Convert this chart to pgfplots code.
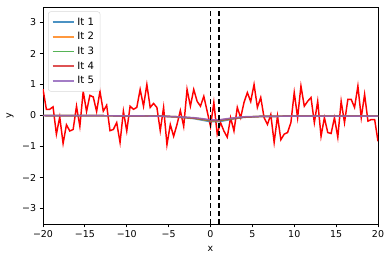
\documentclass[border=0pt]{standalone}
\usepackage{fontspec}
\setmainfont{DejaVu Sans}
\usepackage{pgfplots}
\pgfplotsset{compat=1.18}
\definecolor{tabblue}{HTML}{1F77B4}
\definecolor{taborange}{HTML}{FF7F0E}
\definecolor{tabgreen}{HTML}{2CA02C}
\definecolor{tabred}{HTML}{D62728}
\definecolor{tabpurple}{HTML}{9467BD}

\begin{document}
\fontsize{7.1}{8.5}\selectfont
\begin{tikzpicture}
\path[use as bounding box] (-32.25pt,-28.5pt) rectangle (261pt,168pt);
\begin{axis}[
    at={(0,0)}, anchor=south west,
    scale only axis, width=251.25pt, height=162.75pt,
    xmin=-20, xmax=20, ymin=-3.5, ymax=3.5,
    xtick={-20,-15,...,20},
    xticklabels={−20,−15,−10,−5,0,5,10,15,20},
    ytick={-3,-2,...,3},
    yticklabels={−3,−2,−1,0,1,2,3},
    tick align=outside, tick pos=left,
    major tick length=2.6pt,
    tick style={black, line width=0.6pt},
    axis line style={line width=0.6pt},
    ticklabel style={font=\fontsize{7.1}{8.5}\selectfont},
    xlabel={x}, ylabel={y},
    label style={font=\fontsize{7.1}{8.5}\selectfont},
    xlabel style={yshift=-1pt},
    ylabel style={yshift=1.5pt},
    legend style={at={(0.015,0.98)}, anchor=north west,
        draw=black!15, rounded corners=2pt,
        font=\fontsize{7.6}{9}\selectfont,
        row sep=0.4pt, inner sep=2.5pt},
    legend cell align=left,
    legend image code/.code={\draw[#1, line width=1.4pt] (0pt,0pt) -- (16pt,0pt);},
]
% noisy data
\addplot[red, line width=1.1pt, forget plot] coordinates {
(-20.0,0.85) (-19.6,0.20) (-19.2,0.20) (-18.8,0.28) (-18.4,-0.60) (-18.0,-0.05)
(-17.6,-0.90) (-17.2,-0.30) (-16.8,-0.50) (-16.4,-0.45) (-16.0,0.30) (-15.6,-0.35)
(-15.2,0.78) (-14.8,0.13) (-14.4,0.65) (-14.0,0.60) (-13.6,0.13) (-13.2,0.78)
(-12.8,0.14) (-12.4,0.33) (-12.0,-0.49) (-11.6,-0.45) (-11.2,-0.23) (-10.8,-0.87)
(-10.4,0.14) (-10.0,-0.50) (-9.6,0.30) (-9.2,0.20) (-8.8,0.26) (-8.4,0.84)
(-8.0,0.30) (-7.6,1.00) (-7.2,0.26) (-6.8,0.39) (-6.4,0.26) (-6.0,-0.49)
(-5.6,0.26) (-5.2,-0.94) (-4.8,-0.29) (-4.4,-0.67) (-4.0,-0.29) (-3.6,0.16)
(-3.2,-0.35) (-2.8,0.84) (-2.4,0.30) (-2.0,0.84) (-1.6,0.46) (-1.2,0.30)
(-0.8,0.62) (-0.4,0.14) (0.0,-0.35) (0.4,0.42) (0.8,-0.60) (1.2,-0.23)
(1.6,-0.50) (2.0,-0.70) (2.4,-0.07) (2.8,-0.50) (3.2,0.26) (3.6,-0.07)
(4.0,0.42) (4.4,0.74) (4.8,0.45) (5.2,1.00) (5.6,0.26) (6.0,0.58)
(6.4,-0.07) (6.8,-0.29) (7.2,0.03) (7.6,-0.87) (8.0,-0.02) (8.4,-0.78)
(8.8,-0.60) (9.2,-0.55) (9.6,-0.23) (10.0,0.74) (10.4,-0.07) (10.8,0.95)
(11.2,0.30) (11.6,0.46) (12.0,0.58) (12.4,-0.23) (12.8,0.46) (13.2,-0.67)
(13.6,-0.07) (14.0,-0.55) (14.4,-0.58) (14.8,-0.07) (15.2,-0.70) (15.6,0.46)
(16.0,-0.23) (16.4,0.52) (16.8,0.52) (17.2,0.26) (17.6,0.95) (18.0,-0.07)
(18.4,0.68) (18.8,-0.18) (19.2,-0.13) (19.6,-0.13) (20.0,-0.83)
};
\addplot[tabblue, opacity=0.8, line width=1.1pt] coordinates {
(-20,0) (-10,-0.01) (-6,-0.02) (-4,-0.05) (-2,-0.10) (-1,-0.15) (0,-0.20)
(1,-0.20) (2,-0.15) (3,-0.10) (4,-0.06) (6,-0.03) (10,-0.02) (20,-0.02)};
\addlegendentry{It 1}
\addplot[taborange, opacity=0.8, line width=1.1pt] coordinates {
(-20,0) (-10,-0.01) (-6,-0.02) (-4,-0.05) (-2,-0.09) (-1,-0.13) (0,-0.17)
(1,-0.17) (2,-0.13) (3,-0.09) (4,-0.05) (6,-0.03) (10,-0.02) (20,-0.02)};
\addlegendentry{It 2}
\addplot[tabgreen, opacity=0.8, line width=1.1pt] coordinates {
(-20,0) (-10,-0.01) (-6,-0.02) (-4,-0.04) (-2,-0.08) (-1,-0.12) (0,-0.16)
(1,-0.16) (2,-0.12) (3,-0.08) (4,-0.05) (6,-0.03) (10,-0.02) (20,-0.02)};
\addlegendentry{It 3}
\addplot[tabred, opacity=0.8, line width=1.1pt] coordinates {
(-20,0) (-10,-0.01) (-6,-0.02) (-4,-0.04) (-2,-0.08) (-1,-0.11) (0,-0.15)
(1,-0.15) (2,-0.11) (3,-0.08) (4,-0.05) (6,-0.03) (10,-0.02) (20,-0.02)};
\addlegendentry{It 4}
\addplot[tabpurple, opacity=0.85, line width=1.1pt] coordinates {
(-20,0) (-10,-0.01) (-6,-0.02) (-4,-0.04) (-2,-0.07) (-1,-0.10) (0,-0.14)
(1,-0.14) (2,-0.10) (3,-0.07) (4,-0.04) (6,-0.03) (10,-0.02) (20,-0.02)};
\addlegendentry{It 5}
% window
\addplot[black, line width=1.3pt, dash pattern=on 4pt off 2pt, forget plot]
  coordinates {(0,-3.5) (0,3.5)};
\addplot[black, line width=1.3pt, dash pattern=on 4pt off 2pt, forget plot]
  coordinates {(1,-3.5) (1,3.5)};
\end{axis}
\end{tikzpicture}
\end{document}
